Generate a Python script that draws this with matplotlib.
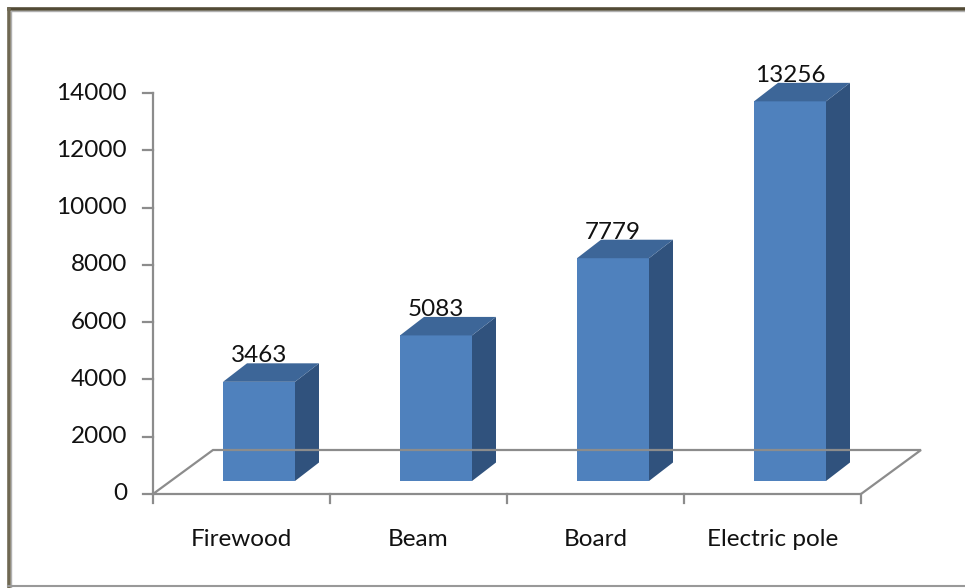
import matplotlib
matplotlib.use('Agg')
import matplotlib.pyplot as plt
from matplotlib.lines import Line2D

# chart data
categories = ['Firewood', 'Beam', 'Board', 'Electric pole']
values = [3463, 5083, 7779, 13256]
yticks = [0, 2000, 4000, 6000, 8000, 10000, 12000, 14000]

plt.rcParams['font.family'] = ['Lato', 'DejaVu Sans']

W, H = 965, 588
fig = plt.figure(figsize=(W / 100, H / 100), dpi=100)
ax = fig.add_axes([0, 0, 1, 1])
ax.set_axis_off()

# pixel scale of the plot
SX = 177.0        # px per category
SY = 0.02864      # px per unit of value
x_axis_px = 153   # left edge of floor
y_zero_px = 494   # value 0 (from top)

xmin = -0.5 - x_axis_px / SX
ymin = -(H - y_zero_px) / SY
ax.set_xlim(xmin, xmin + W / SX)
ax.set_ylim(ymin, ymin + H / SY)

def px(dx, dy):
    # pixel offsets -> data offsets
    return dx / SX, dy / SY

n = len(categories)
line_c = '#8c8c8c'
txt_c = '#111111'
fs = 17.5

# floor
fdx, fdy = px(60, 44)
fx = [-0.5, -0.5 + fdx, n - 0.5 + fdx, n - 0.5, -0.5]
fy = [0, fdy, fdy, 0, 0]
ax.plot(fx, fy, color=line_c, lw=1.6, solid_joinstyle='miter')

# y axis
ax.plot([-0.5, -0.5], [0, yticks[-1]], color=line_c, lw=1.6)
tl, _ = px(10, 0)
for t in yticks:
    ax.plot([-0.5 - tl, -0.5], [t, t], color=line_c, lw=1.6)
    ax.text(-0.5 - px(26, 0)[0], t, str(t), ha='right', va='center',
            fontsize=fs, color=txt_c)

# x ticks
_, tlen = px(0, 9)
for i in range(n + 1):
    ax.plot([i - 0.5, i - 0.5], [0, -tlen], color=line_c, lw=1.6)
for i, c in enumerate(categories):
    ax.text(i, -px(0, 45)[1], c, ha='center', va='center',
            fontsize=fs, color=txt_c)

# bars
bw = 72 / SX
bx, by = px(17.5, 13)
ddx, ddy = px(24, 18.5)
front_c = '#4F81BD'
top_c = '#3D6698'
side_c = '#30527D'
for i, v in enumerate(values):
    x0 = i - bw / 2 + bx
    x1 = x0 + bw
    b = by
    t = by + v
    ax.fill([x0, x1, x1, x0], [b, b, t, t], color=front_c, lw=0)
    ax.fill([x1, x1 + ddx, x1 + ddx, x1], [b, b + ddy, t + ddy, t],
            color=side_c, lw=0)
    ax.fill([x0, x1, x1 + ddx, x0 + ddx], [t, t, t + ddy, t + ddy],
            color=top_c, lw=0)
    ax.text(x0 + bw / 2, t + ddy + px(0, 1)[1], str(v), ha='center',
            va='baseline', fontsize=fs, color=txt_c)

# outer frame
frame_c = '#524A35'
fig.add_artist(Line2D([8.5 / W, 1], [1 - 8.5 / H, 1 - 8.5 / H],
                      color=frame_c, lw=2.6, transform=fig.transFigure))
fig.add_artist(Line2D([8.5 / W, 8.5 / W], [0, 1 - 8.5 / H],
                      color='#6f6852', lw=2.6, transform=fig.transFigure))
fig.add_artist(Line2D([10.5 / W, 1], [1 - 10.8 / H, 1 - 10.8 / H],
                      color='#b0b0b0', lw=1.0, transform=fig.transFigure))
fig.add_artist(Line2D([10.8 / W, 10.8 / W], [0, 1 - 10.5 / H],
                      color='#b0b0b0', lw=1.0, transform=fig.transFigure))
fig.add_artist(Line2D([8 / W, 1], [2.5 / H, 2.5 / H],
                      color='#999999', lw=1.5, transform=fig.transFigure))

fig.savefig('out.png', dpi=100)
